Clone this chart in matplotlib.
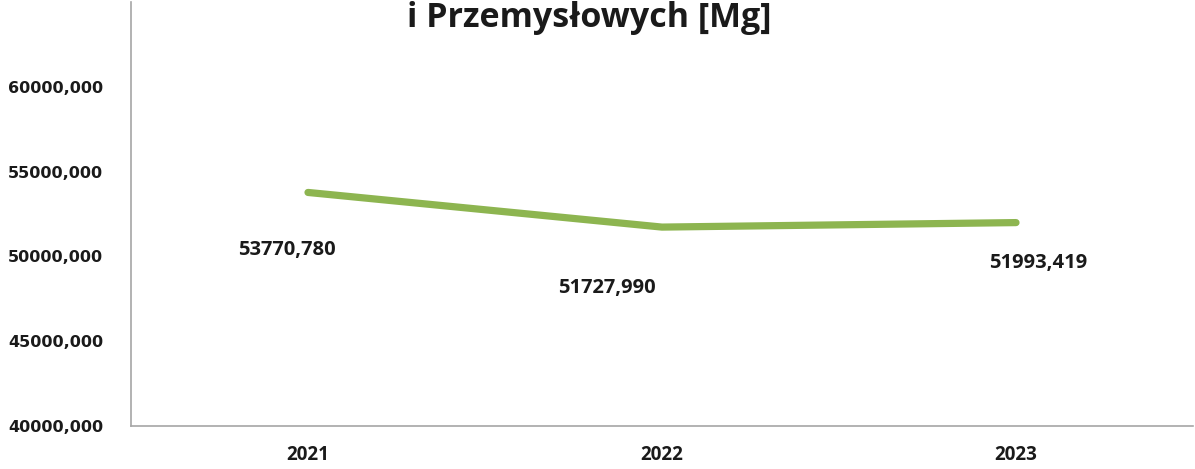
import matplotlib
matplotlib.use('Agg')
import matplotlib.pyplot as plt
from matplotlib.ticker import FuncFormatter

# data
years = ['2021', '2022', '2023']
mass_mg = [53770.780, 51727.990, 51993.419]
label_texts = ['53770,780', '51727,990', '51993,419']
# hand-placed label offsets (pixels) as in the original
label_offsets = [(-21, -58), (-55, -61), (22, -40)]
y_ticks = [40000, 45000, 50000, 55000, 60000]

W, H = 1195, 469
fig = plt.figure(figsize=(W / 100, H / 100), dpi=100)
ax = fig.add_axes([131 / W, 43 / H, (1193 - 131) / W, (426 - 2) / H])

x = list(range(len(years)))
ax.plot(x, mass_mg, color='#8db550', linewidth=5.2, solid_capstyle='round')

ax.set_xlim(-0.5, len(years) - 0.5)
ax.set_ylim(40000, 65000)
ax.set_yticks(y_ticks)
ax.yaxis.set_major_formatter(FuncFormatter(lambda v, p: f"{int(v)},000"))
ax.set_xticks(x)
ax.set_xticklabels(years)

for s in ['top', 'right']:
    ax.spines[s].set_visible(False)
for s in ['left', 'bottom']:
    ax.spines[s].set_color('#a6a6a6')
    ax.spines[s].set_linewidth(1.2)
ax.tick_params(length=0)
ax.tick_params(axis='y', pad=20, labelsize=11.5, labelcolor='#1a1a1a',
               labelfontfamily='DejaVu Sans')
ax.tick_params(axis='x', pad=14, labelsize=13.5, labelcolor='#1a1a1a',
               labelfontfamily='Open Sans')

for lab in ax.get_yticklabels() + ax.get_xticklabels():
    lab.set_fontweight('bold')

for xi, yi, txt, off in zip(x, mass_mg, label_texts, label_offsets):
    ax.annotate(txt, (xi, yi), xytext=off, textcoords='offset pixels',
                ha='center', va='center', fontsize=14.5, fontweight='bold',
                family='Open Sans', color='#1a1a1a')

# title, top part cropped as in the reference
fig.text(589 / W, (H - 27) / H, 'i Przemysłowych [Mg]', ha='center',
         va='baseline', fontsize=24.5, fontweight='bold', family='Open Sans',
         color='#1a1a1a')

fig.savefig('out.png', dpi=100)
